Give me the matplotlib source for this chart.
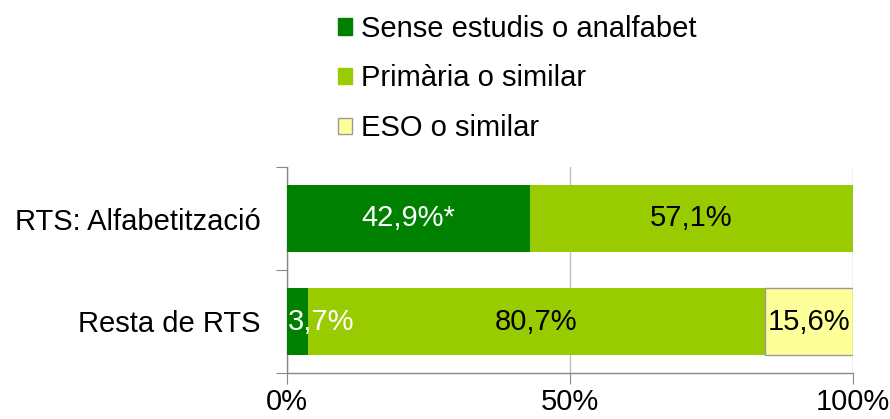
import matplotlib.pyplot as plt
from matplotlib.patches import Patch

plt.rcParams['font.family'] = ['Liberation Sans', 'DejaVu Sans']

categories = ["RTS: Alfabetització", "Resta de RTS"]
series_names = ["Sense estudis o analfabet", "Primària o similar", "ESO o similar"]
sense = [42.9, 3.7]
primaria = [57.1, 80.7]
eso = [0.0, 15.6]
labels = [["42,9%*", "3,7%"], ["57,1%", "80,7%"], ["", "15,6%"]]

COLORS = ["#008000", "#99CC00", "#FFFF99"]
EDGES = ["none", "none", "#999999"]
TEXT_COLORS = ["white", "black", "black"]
GRID = "#BFBFBF"
FS = 21

fig = plt.figure(figsize=(8.9, 4.19), dpi=100)
ax = fig.add_axes([287 / 890, 46 / 419, 566 / 890, 206 / 419])

ypos = [1, 0]
left = [0.0, 0.0]
for i, vals in enumerate([sense, primaria, eso]):
    ax.barh(ypos, vals, left=left, height=0.66, color=COLORS[i],
            edgecolor=EDGES[i], linewidth=1, zorder=3)
    for j, v in enumerate(vals):
        if labels[i][j]:
            if v < 8:
                ax.text(left[j] + 0.2, ypos[j], labels[i][j], ha="left", va="center",
                        color=TEXT_COLORS[i], fontsize=FS, zorder=4)
            else:
                ax.text(left[j] + v / 2, ypos[j], labels[i][j], ha="center", va="center",
                        color=TEXT_COLORS[i], fontsize=FS, zorder=4)
    left = [a + b for a, b in zip(left, vals)]

ax.set_xlim(0, 100)
ax.set_ylim(-0.5, 1.5)
ax.set_xticks([0, 50, 100])
ax.set_xticklabels(["0%", "50%", "100%"], fontsize=FS)
ax.set_yticks([-0.5, 0.5, 1.5])
ax.set_yticklabels([])
ax.set_yticks(ypos, minor=True)
ax.set_yticklabels(categories, minor=True, fontsize=FS)
ax.tick_params(axis="y", which="minor", length=0, pad=19)
ax.tick_params(axis="y", which="major", length=8, color="#888888")
ax.tick_params(axis="x", length=8, color="#888888", pad=3)

ax.xaxis.grid(True, color=GRID, linewidth=1, zorder=0)
for s in ["top", "right"]:
    ax.spines[s].set_visible(False)
for s in ["left", "bottom"]:
    ax.spines[s].set_color("#888888")
    ax.spines[s].set_linewidth(1)

handles = [Patch(facecolor=COLORS[k], edgecolor=EDGES[k] if EDGES[k] != "none" else COLORS[k])
           for k in range(3)]
fig.legend(handles, series_names, loc="upper left", bbox_to_anchor=(323 / 890, 1.0),
           frameon=False, fontsize=FS, handlelength=0.5, handleheight=0.5,
           handletextpad=0.3, labelspacing=0.75, borderaxespad=0.1)

fig.savefig("out.png", dpi=100)
